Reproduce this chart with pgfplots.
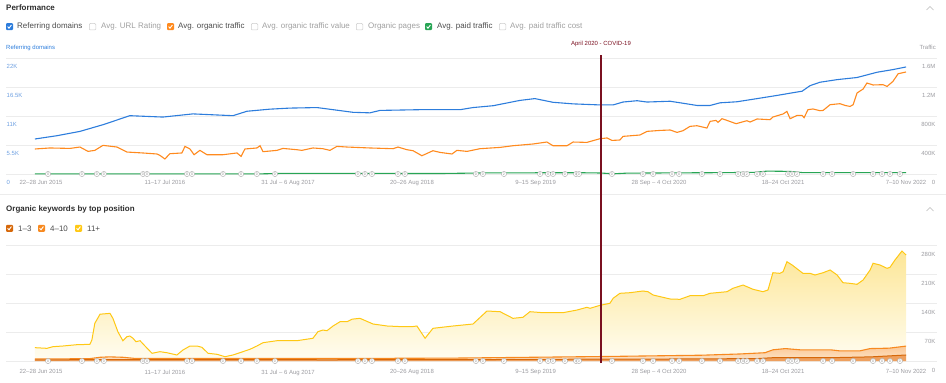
\documentclass[border=0pt]{standalone}
\usepackage{pgfplots}
\pgfplotsset{compat=1.18}
\usepackage{pgfplotstable}
\usepackage{fontspec}
\setmainfont{Liberation Sans}

\definecolor{rdblue}{RGB}{45,125,220}
\definecolor{lblue}{RGB}{110,160,225}
\definecolor{trorange}{RGB}{255,138,30}
\definecolor{pgreen}{RGB}{40,165,85}
\definecolor{kwyellow}{RGB}{255,200,20}
\definecolor{yfilltop}{RGB}{253,230,150}
\definecolor{yfillbot}{RGB}{255,253,242}
\definecolor{kworange}{RGB}{247,137,31}
\definecolor{ofilltop}{RGB}{251,200,150}
\definecolor{ofillbot}{RGB}{253,228,200}
\definecolor{kwdark}{RGB}{214,104,10}
\definecolor{dfill}{RGB}{238,160,95}
\definecolor{covid}{RGB}{122,16,32}
\definecolor{gridgray}{RGB}{236,236,236}
\definecolor{tgray}{RGB}{155,155,160}
\definecolor{hdr}{RGB}{45,45,45}
\definecolor{offtext}{RGB}{160,160,160}

\newcommand\tickfont{\fontsize{6}{7}\selectfont}
\newcommand\legfont{\fontsize{8}{9}\selectfont}

\newcommand\checkon[3]{%
  \fill[#3, rounded corners=1bp] (#1,-#2-3.5) rectangle ++(7,7);
  \draw[white, line width=0.9bp] (#1+1.6,-#2+0.1) -- (#1+3,-#2-1.5) -- (#1+5.4,-#2+1.7);}
\newcommand\checkoff[2]{%
  \draw[gray!40, line width=0.5bp, rounded corners=1bp, fill=white] (#1+0.25,-#2-3.25) rectangle ++(6.5,6.5);}

% Referring domains (week since 22 Jun 2015, domains)
\pgfplotstableread{
w v
0 6640
9.7 7260
19.9 8080
30.1 9350
42.0 11060
56.6 10800
69.9 11400
87.6 11060
93.8 11900
104.0 12300
112.8 12500
124.8 12600
131.9 12200
140.7 11700
148.2 11600
152.7 12060
170.4 12200
188.1 12200
193.8 12600
202.7 12950
214.6 13960
221.2 14300
229.2 13600
238.1 13300
250.0 13100
255.8 13100
260.2 13650
266.4 13900
270.8 13650
281.0 13800
288.5 13300
292.9 13000
298.7 13000
303.1 13500
310.6 13700
319.5 14300
328.3 14900
337.2 15550
339.4 15700
342.9 16750
347.3 17400
354.9 17900
363.7 18300
372.6 19300
379.6 19800
385.4 20300
}\refdom

% Avg. organic traffic
\pgfplotstableread{
w v
0 345000
6.6 359000
15.5 353000
19.9 372000
23.5 312000
26.5 326000
30.1 395000
36.3 372000
40.7 303000
47.8 290000
54.0 276000
55.3 257000
57.5 207000
59.7 280000
65.0 290000
66.4 381000
68.6 345000
70.4 266000
73.0 326000
76.1 266000
83.2 266000
89.4 290000
91.2 243000
92.9 345000
98.2 359000
99.6 390000
100.9 308000
107.1 326000
109.7 353000
115.9 335000
118.1 326000
123.0 359000
127.4 349000
130.5 326000
133.6 381000
138.1 372000
148.2 359000
158.4 349000
160.6 372000
164.6 335000
167.3 321000
171.2 252000
176.1 321000
179.2 298000
184.5 276000
186.7 326000
191.2 312000
196.9 349000
205.8 367000
211.5 390000
220.4 414000
226.5 441000
229.2 390000
235.4 390000
238.1 441000
244.2 436000
250.0 487000
253.1 497000
255.3 463000
258.8 469000
260.2 519000
267.7 538000
270.8 588000
276.5 601000
281.0 607000
284.1 574000
286.7 597000
289.8 657000
292.9 666000
297.3 634000
298.7 726000
301.3 739000
302.2 712000
304.0 763000
306.2 739000
310.2 694000
315.0 735000
316.4 717000
319.5 759000
325.2 749000
326.5 786000
331.0 828000
332.7 863000
334.1 763000
337.2 808000
339.4 808000
340.3 777000
342.0 887000
344.2 897000
347.3 873000
348.7 877000
351.8 956000
356.2 970000
358.4 946000
360.6 932000
362.0 956000
363.7 1117000
366.4 1172000
368.1 1255000
370.8 1228000
375.2 1232000
377.0 1208000
379.6 1277000
381.9 1383000
385.4 1407000
}\traffic

% Avg. paid traffic
\pgfplotstableread{
w v
0 2000
100 2000
110 9000
150 8000
180 7000
200 15000
240 18000
250 14000
256 3000
262 12000
280 15000
300 18000
318 22000
324 40000
334 36000
340 18000
370 20000
385.4 20000
}\paid

% Organic keywords: cumulative top (1-3 + 4-10 + 11+)
\pgfplotstableread{
w v
0 32200
5.3 30600
8.0 34600
12.4 36200
18.6 39400
24.3 40200
25.2 50700
26.5 91000
28.8 113000
33.2 115000
34.5 103000
36.7 70700
38.9 49000
40.7 58700
42.0 60300
43.4 54800
44.7 46600
46.5 49000
48.7 36200
51.8 18600
55.3 22500
58.4 20000
62.8 14500
65.5 26600
68.6 36200
71.7 36200
73.9 33000
76.6 18600
80.5 16200
84.1 10400
87.6 14500
92.0 22500
95.1 28200
98.2 36200
100.9 44200
107.1 49000
115.9 49000
121.7 53800
123.0 54800
125.2 70700
127.4 74800
129.2 73100
131.9 84500
135.0 94900
138.1 94900
140.3 101000
143.8 103000
149.6 89300
155.8 84500
162.8 82800
166.8 82800
169.0 84500
172.6 54800
176.1 78900
185.0 84500
193.8 89300
200.0 120700
205.8 119000
211.5 103000
215.9 105500
219.0 119000
224.8 116600
233.6 116600
239.8 123000
244.2 129600
245.6 127200
250.0 134400
254.4 139300
255.8 151300
258.8 163400
263.3 164900
269.0 169000
271.2 167300
273.5 159300
281.0 149700
285.4 148900
289.8 157600
295.6 157600
298.7 163400
306.2 167300
308.8 175500
313.3 183400
317.7 173100
322.1 167300
324.3 171400
326.5 213100
329.6 211600
331.0 215500
332.7 239700
335.0 231700
339.8 211600
342.9 211600
345.1 207600
348.7 213100
351.8 219700
354.9 207600
357.5 189000
360.6 187500
363.7 185100
366.4 195500
369.5 219700
370.8 235900
373.9 231700
377.0 223700
378.3 226200
380.5 243800
383.6 265500
385.4 255900
}\kwtot

% cumulative 1-3 + 4-10
\pgfplotstableread{
w v
0 5000
24 5500
28.8 9000
33 10000
38.9 9000
44.7 6000
130 6000
185 7000
211 8500
254 11000
295 14000
312 17000
323 20000
326.5 27000
332 30000
338.5 27000
352 27000
356 24500
365 24500
369.5 30000
378 31000
385.4 36000
}\kwmid

% 1-3
\pgfplotstableread{
w v
0 2500
28.8 3500
38.9 3500
130 3000
197 3500
250 4500
295 5000
320 6000
326.5 8000
352 8000
370 10000
385.4 14500
}\kwlow

% annotation markers
\pgfplotstableread{
w y l
5.8 0 0
20.8 0 0
27.4 0 0
30.5 0 0
47.8 0 0
49.6 0 0
67.3 0 0
69.5 0 0
83.2 0 0
91.2 0 0
98.2 0 0
106.2 0 0
142.9 0 0
146.0 0 0
149.1 0 0
160.6 0 0
163.7 0 0
195.1 0 0
198.2 0 0
207.5 0 2
223.5 0 0
227.0 0 0
229.2 0 0
234.5 0 0
239.4 0 0
240.7 0 0
255.3 0 0
269.0 0 0
273.5 0 0
281.9 0 0
285.0 0 0
295.1 0 0
303.1 0 0
311.1 0 0
313.3 0 0
315.0 0 2
319.5 0 0
322.1 0 0
333.2 0 0
335.0 0 0
337.2 0 2
348.7 0 0
352.7 0 0
362.0 0 0
370.8 0 0
374.8 0 0
378.3 0 0
382.7 0 0
}\anno

\pgfplotsset{
  base/.style={
    scale only axis, width=931bp, height=116bp,
    xmin=-12.8, xmax=399.1, ymin=0,
    scaled x ticks=false, scaled y ticks=false,
    axis line style={draw=none}, tick style={draw=none},
    major tick length=0pt, clip=false,
    grid style={draw=gridgray, line width=0.6bp},
  },
  dates/.style={
    xtick={2.7,57.5,112.0,166.8,221.5,276.1,331.0,385.4},
    xticklabels={{22–28 Jun 2015},{11–17 Jul 2016},{31 Jul – 6 Aug 2017},{20–26 Aug 2018},{9–15 Sep 2019},{28 Sep – 4 Oct 2020},{18–24 Oct 2021},{7–10 Nov 2022}},
  },
  annomarks/.style={only marks, mark=*, mark size=2.6bp,
    mark options={fill=white, draw=gray!60, line width=0.45bp},
    nodes near coords, point meta=explicit symbolic,
    every node near coord/.append style={font=\fontsize{3.6}{4}\selectfont, text=gray!85, anchor=center, inner sep=0pt, yshift=0bp}},
}

\begin{document}
\begin{tikzpicture}
\useasboundingbox (0bp,0bp) rectangle (946bp,-383bp);

\begin{scope}[x=1bp,y=1bp]
% ---- Header: Performance ----
\node[anchor=west, inner sep=0, font=\bfseries\legfont, text=hdr] at (6,-7.5) {Performance};
\draw[gray!55, line width=0.6bp] (926.5,-10) -- (930,-6.5) -- (933.5,-10);

\checkon{6}{26.7}{rdblue}
\node[anchor=west, inner sep=0, font=\legfont, text=hdr!85] at (17,-26.7) {Referring domains};
\checkoff{89}{26.7}
\node[anchor=west, inner sep=0, font=\legfont, text=offtext] at (101,-26.7) {Avg. URL Rating};
\checkon{167}{26.7}{trorange}
\node[anchor=west, inner sep=0, font=\legfont, text=hdr!85] at (178,-26.7) {Avg. organic traffic};
\checkoff{251}{26.7}
\node[anchor=west, inner sep=0, font=\legfont, text=offtext] at (262,-26.7) {Avg. organic traffic value};
\checkoff{356}{26.7}
\node[anchor=west, inner sep=0, font=\legfont, text=offtext] at (368,-26.7) {Organic pages};
\checkon{425}{26.7}{pgreen}
\node[anchor=west, inner sep=0, font=\legfont, text=hdr!85] at (437,-26.7) {Avg. paid traffic};
\checkoff{499}{26.7}
\node[anchor=west, inner sep=0, font=\legfont, text=offtext] at (510,-26.7) {Avg. paid traffic cost};

\node[anchor=west, inner sep=0, font=\tickfont, text=rdblue] at (6,-47.5) {Referring domains};
\node[anchor=east, inner sep=0, font=\tickfont, text=tgray] at (936,-47) {Traffic};
\node[inner sep=0, font=\tickfont, text=covid] at (601,-44) {April 2020 - COVID-19};
\end{scope}

% ---- Top panel: left axis (referring domains) ----
\begin{axis}[base, dates, at={(6bp,-174bp)}, anchor=south west,
  ymax=22000,
  ytick={0,5500,11000,16500,22000}, yticklabels={0,5.5K,11K,16.5K,22K},
  ymajorgrids,
  yticklabel style={anchor=north west, inner sep=0pt, xshift=0.5bp, yshift=-6.3bp, font=\tickfont, text=lblue},
  xticklabel style={anchor=north, inner sep=0pt, yshift=-6.3bp, font=\tickfont, text=tgray},
]
\addplot[rdblue, line width=1.1bp, mark=none] table[x=w,y=v] {\refdom};
\end{axis}

% ---- Top panel: right axis (traffic) ----
\begin{axis}[base, at={(6bp,-174bp)}, anchor=south west,
  ymax=1600000, xtick=\empty,
  ytick={0,400000,800000,1200000,1600000}, yticklabels={0,400K,800K,1.2M,1.6M},
  yticklabel pos=right,
  yticklabel style={anchor=north east, inner sep=0pt, xshift=-1.5bp, yshift=-6.3bp, font=\tickfont, text=tgray},
]
\addplot[pgreen, line width=1.1bp, mark=none] table[x=w,y=v] {\paid};
\addplot[trorange, line width=1.1bp, mark=none] table[x=w,y=v] {\traffic};
\addplot[annomarks] table[x=w,y=y,meta=l] {\anno};
\end{axis}

\begin{scope}[x=1bp,y=1bp]
% separator
\draw[gridgray, line width=0.8bp] (0,-194) -- (946,-194);
% ---- Header: Organic keywords ----
\node[anchor=west, inner sep=0, font=\bfseries\legfont, text=hdr] at (6,-209) {Organic keywords by top position};
\draw[gray!55, line width=0.6bp] (926.5,-211) -- (930,-207.5) -- (933.5,-211);
\checkon{6}{228.3}{kwdark}
\node[anchor=west, inner sep=0, font=\legfont, text=hdr!85] at (18,-228.3) {1–3};
\checkon{38}{228.3}{kworange}
\node[anchor=west, inner sep=0, font=\legfont, text=hdr!85] at (50,-228.3) {4–10};
\checkon{75}{228.3}{kwyellow}
\node[anchor=west, inner sep=0, font=\legfont, text=hdr!85] at (87,-228.3) {11+};
\end{scope}

% ---- Bottom panel ----
\begin{axis}[base, dates, at={(6bp,-361bp)}, anchor=south west,
  ymax=280000,
  ytick={0,70000,140000,210000,280000}, yticklabels={0,70K,140K,210K,280K},
  ymajorgrids,
  yticklabel pos=right,
  yticklabel style={anchor=north east, inner sep=0pt, xshift=-1.5bp, yshift=-6.8bp, font=\tickfont, text=tgray},
  xticklabel style={anchor=north, inner sep=0pt, yshift=-8.5bp, font=\tickfont, text=tgray},
]
\addplot[draw=none, top color=yfilltop, bottom color=yfillbot] table[x=w,y=v] {\kwtot} \closedcycle;
\addplot[draw=none, top color=ofilltop, bottom color=ofillbot] table[x=w,y=v] {\kwmid} \closedcycle;
\addplot[draw=none, fill=dfill] table[x=w,y=v] {\kwlow} \closedcycle;
\addplot[kwyellow, line width=1bp, mark=none] table[x=w,y=v] {\kwtot};
\addplot[kworange, line width=1.1bp, mark=none] table[x=w,y=v] {\kwmid};
\addplot[kwdark, line width=1bp, mark=none] table[x=w,y=v] {\kwlow};
\addplot[annomarks] table[x=w,y=y,meta=l] {\anno};
\draw[covid, line width=2bp] ([yshift=-2bp]axis cs:250.4,0) -- ([yshift=190bp]axis cs:250.4,280000);
\end{axis}

\end{tikzpicture}
\end{document}
